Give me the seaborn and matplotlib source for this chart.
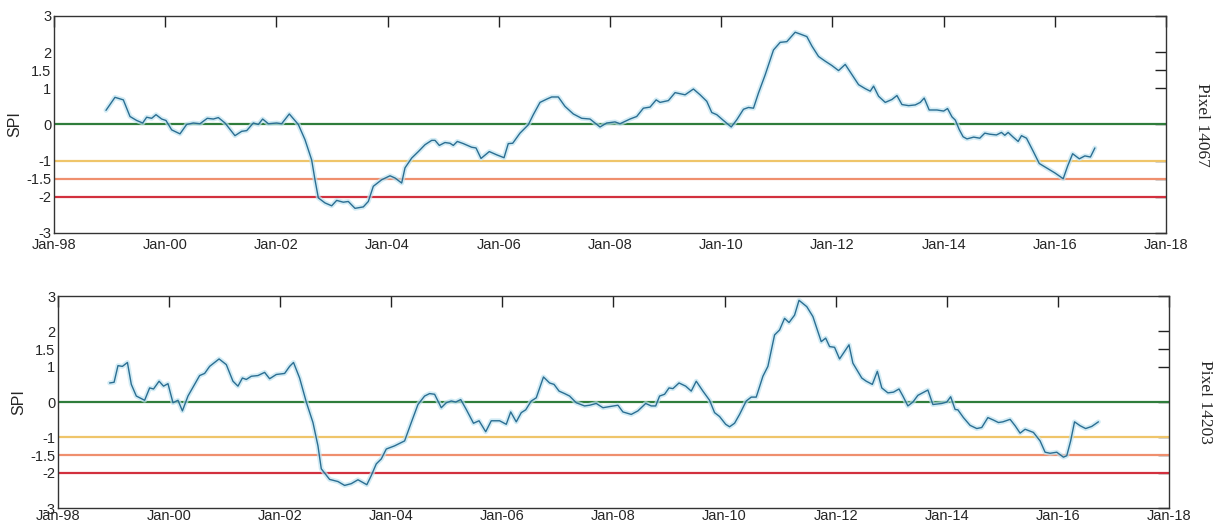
import matplotlib
matplotlib.use('Agg')
import matplotlib.pyplot as plt
import matplotlib.dates as mdates
import numpy as np
import pandas as pd
import seaborn as sns

# SPI values (time as years since Jan-1998)
yrs_top = [0.935, 1.097, 1.247, 1.367, 1.487, 1.595, 1.667, 1.757, 1.835, 1.937,
           2.014, 2.117, 2.266, 2.386, 2.506, 2.626, 2.757, 2.866, 2.956, 3.076,
           3.255, 3.376, 3.466, 3.585, 3.675, 3.753, 3.855, 4.005, 4.095, 4.232,
           4.394, 4.514, 4.634, 4.694, 4.754, 4.874, 4.994, 5.084, 5.203, 5.293,
           5.414, 5.563, 5.653, 5.743, 5.893, 6.043, 6.133, 6.253, 6.313, 6.433,
           6.553, 6.673, 6.793, 6.853, 6.930, 7.032, 7.122, 7.182, 7.254, 7.362,
           7.512, 7.59, 7.68, 7.829, 7.962, 8.094, 8.17, 8.25, 8.381, 8.53,
           8.62, 8.741, 8.861, 8.951, 9.07, 9.19, 9.34, 9.49, 9.64, 9.82,
           9.94, 10.09, 10.18, 10.36, 10.48, 10.60, 10.72, 10.83, 10.90, 11.05,
           11.17, 11.35, 11.50, 11.62, 11.74, 11.83, 11.92, 12.04, 12.18, 12.28,
           12.40, 12.49, 12.58, 12.67, 12.79, 12.94, 13.06, 13.18, 13.33, 13.42,
           13.54, 13.63, 13.75, 13.87, 13.99, 14.11, 14.23, 14.35, 14.47, 14.59,
           14.68, 14.74, 14.83, 14.95, 15.07, 15.16, 15.25, 15.37, 15.49, 15.58,
           15.65, 15.74, 15.88, 16.00, 16.07, 16.15, 16.21, 16.28, 16.35, 16.42,
           16.54, 16.65, 16.74, 16.83, 16.95, 17.04, 17.10, 17.16, 17.25, 17.34,
           17.40, 17.49, 17.61, 17.72, 17.85, 18.00, 18.15, 18.23, 18.32, 18.44,
           18.54, 18.64, 18.72]
spi_top = [0.39, 0.75, 0.68, 0.22, 0.11, 0.04, 0.20, 0.17, 0.27, 0.15,
           0.11, -0.15, -0.26, 0.00, 0.04, 0.02, 0.17, 0.15, 0.19, 0.04,
           -0.31, -0.19, -0.17, 0.04, 0.00, 0.15, 0.02, 0.04, 0.02, 0.29,
           0.00, -0.42, -0.98, -1.53, -2.03, -2.17, -2.25, -2.10, -2.15, -2.13,
           -2.32, -2.28, -2.13, -1.71, -1.53, -1.42, -1.48, -1.62, -1.20, -0.93,
           -0.75, -0.56, -0.44, -0.44, -0.58, -0.50, -0.52, -0.58, -0.47, -0.53,
           -0.63, -0.65, -0.94, -0.75, -0.84, -0.92, -0.53, -0.52, -0.24, -0.01,
           0.27, 0.61, 0.70, 0.76, 0.76, 0.50, 0.29, 0.17, 0.15, -0.07,
           0.04, 0.07, 0.02, 0.15, 0.22, 0.45, 0.48, 0.68, 0.61, 0.66,
           0.88, 0.82, 0.98, 0.82, 0.64, 0.33, 0.27, 0.11, -0.07, 0.13,
           0.42, 0.47, 0.45, 0.87, 1.37, 2.06, 2.27, 2.29, 2.55, 2.50,
           2.43, 2.17, 1.88, 1.75, 1.63, 1.49, 1.66, 1.38, 1.10, 0.99,
           0.92, 1.06, 0.78, 0.61, 0.69, 0.80, 0.55, 0.52, 0.54, 0.61,
           0.73, 0.40, 0.40, 0.37, 0.44, 0.21, 0.12, -0.14, -0.34, -0.40,
           -0.35, -0.38, -0.24, -0.27, -0.29, -0.22, -0.30, -0.22, -0.35, -0.47,
           -0.31, -0.38, -0.74, -1.08, -1.20, -1.34, -1.50, -1.15, -0.81, -0.95,
           -0.87, -0.90, -0.65]

yrs_bottom = [0.93, 1.01, 1.08, 1.16, 1.25, 1.32, 1.41, 1.56, 1.65, 1.72,
              1.82, 1.90, 1.98, 2.07, 2.16, 2.24, 2.34, 2.46, 2.55, 2.64,
              2.73, 2.90, 3.03, 3.15, 3.24, 3.32, 3.39, 3.48, 3.60, 3.72,
              3.81, 3.93, 4.08, 4.17, 4.24, 4.35, 4.47, 4.59, 4.68, 4.74,
              4.89, 5.04, 5.16, 5.28, 5.40, 5.56, 5.64, 5.73, 5.82, 5.91,
              6.06, 6.24, 6.36, 6.48, 6.60, 6.69, 6.78, 6.90, 6.99, 7.08,
              7.16, 7.25, 7.35, 7.48, 7.58, 7.70, 7.80, 7.95, 8.07, 8.15,
              8.25, 8.34, 8.42, 8.52, 8.61, 8.74, 8.85, 8.93, 9.02, 9.12,
              9.21, 9.33, 9.48, 9.57, 9.69, 9.81, 9.93, 10.08, 10.17, 10.32,
              10.44, 10.58, 10.68, 10.76, 10.83, 10.92, 11.00, 11.07, 11.18, 11.30,
              11.40, 11.49, 11.61, 11.73, 11.82, 11.91, 12.02, 12.09, 12.18, 12.27,
              12.39, 12.48, 12.57, 12.69, 12.78, 12.90, 12.99, 13.08, 13.16, 13.26,
              13.34, 13.48, 13.59, 13.68, 13.74, 13.82, 13.89, 13.98, 14.07, 14.24,
              14.31, 14.47, 14.55, 14.66, 14.75, 14.83, 14.94, 15.04, 15.14, 15.21,
              15.30, 15.39, 15.48, 15.66, 15.75, 15.91, 16.00, 16.07, 16.15, 16.20,
              16.30, 16.42, 16.54, 16.63, 16.74, 16.84, 16.93, 17.01, 17.14, 17.23,
              17.32, 17.41, 17.56, 17.68, 17.77, 17.86, 17.98, 18.10, 18.16, 18.23,
              18.30, 18.40, 18.50, 18.61, 18.73]
spi_bottom = [0.54, 0.56, 1.03, 1.01, 1.12, 0.50, 0.17, 0.05, 0.40, 0.37,
              0.59, 0.45, 0.52, -0.02, 0.05, -0.25, 0.17, 0.50, 0.75, 0.81,
              1.01, 1.22, 1.06, 0.59, 0.45, 0.68, 0.64, 0.73, 0.75, 0.84,
              0.66, 0.78, 0.81, 1.01, 1.12, 0.68, 0.00, -0.58, -1.24, -1.89,
              -2.19, -2.25, -2.36, -2.31, -2.20, -2.34, -2.08, -1.75, -1.61, -1.33,
              -1.24, -1.10, -0.58, -0.07, 0.17, 0.24, 0.22, -0.16, -0.02, 0.03,
              0.00, 0.07, -0.21, -0.60, -0.53, -0.84, -0.53, -0.53, -0.63, -0.28,
              -0.56, -0.30, -0.22, 0.03, 0.12, 0.71, 0.54, 0.50, 0.31, 0.24,
              0.17, -0.02, -0.11, -0.09, -0.04, -0.16, -0.13, -0.09, -0.28, -0.35,
              -0.25, -0.04, -0.11, -0.11, 0.17, 0.22, 0.40, 0.38, 0.54, 0.45,
              0.31, 0.59, 0.31, 0.05, -0.30, -0.41, -0.63, -0.70, -0.60, -0.35,
              0.03, 0.14, 0.14, 0.73, 1.01, 1.90, 2.04, 2.37, 2.25, 2.46,
              2.88, 2.70, 2.42, 1.99, 1.71, 1.81, 1.57, 1.55, 1.22, 1.62,
              1.10, 0.68, 0.59, 0.50, 0.87, 0.40, 0.26, 0.28, 0.37, 0.17,
              -0.11, 0.00, 0.19, 0.34, -0.07, -0.04, 0.00, 0.15, -0.21, -0.22,
              -0.44, -0.66, -0.75, -0.72, -0.44, -0.51, -0.58, -0.56, -0.49, -0.67,
              -0.88, -0.77, -0.86, -1.10, -1.42, -1.45, -1.42, -1.56, -1.52, -1.10,
              -0.56, -0.67, -0.75, -0.69, -0.56]

pixels = ['Pixel 14067', 'Pixel 14203']
thresholds = [0, -1, -1.5, -2]
threshold_colors = ['#2f7d3b', '#efc56a', '#ef8f6e', '#d2303e']
y_ticks = [-3, -2, -1.5, -1, 0, 1, 1.5, 2, 3]
y_ticklabels = ['-3', '-2', '-1.5', '-1', '0', '1', '1.5', '2', '3']


def to_dates(yrs):
    return pd.Timestamp('1998-01-01') + pd.to_timedelta(np.array(yrs) * 365.25, unit='D')


sns.set_style('white')
plt.rcParams['font.family'] = ['Liberation Sans', 'DejaVu Sans']

fig = plt.figure(figsize=(12.13, 5.27), dpi=100)
ax_top = fig.add_axes([0.0445, 0.558, 0.9168, 0.4117])
ax_bot = fig.add_axes([0.0478, 0.036, 0.9159, 0.4022])

series = [(yrs_top, spi_top), (yrs_bottom, spi_bottom)]
for ax, (yrs, vals), name, xpad in zip([ax_top, ax_bot], series, pixels, [4, 0.5]):
    df = pd.DataFrame({'date': to_dates(yrs), 'SPI': vals})

    for lvl, col in zip(thresholds, threshold_colors):
        ax.axhline(lvl, color=col, lw=1.6, zorder=1)

    # soft halo under the line, like the scanned original
    sns.lineplot(data=df, x='date', y='SPI', ax=ax, color='#bfe3f0', lw=3.5, alpha=0.7, zorder=2)
    sns.lineplot(data=df, x='date', y='SPI', ax=ax, color='#2b6e92', lw=1.0, zorder=3)

    ax.set_xlim(pd.Timestamp('1998-01-01'), pd.Timestamp('2018-01-01'))
    ax.set_ylim(-3, 3)
    ax.xaxis.set_major_locator(mdates.YearLocator(2))
    ax.xaxis.set_major_formatter(mdates.DateFormatter('%b-%y'))
    ax.set_yticks(y_ticks)
    ax.set_yticklabels(y_ticklabels)
    ax.tick_params(direction='in', length=8, width=1, color='#222222',
                   top=True, right=True, labelsize=10.5, pad=2)
    ax.tick_params(axis='x', pad=xpad)
    ax.set_xlabel('')
    ax.set_ylabel('SPI', fontsize=11.5, labelpad=3)
    for sp in ax.spines.values():
        sp.set_color('#333333')
        sp.set_linewidth(1.0)
    ax.text(1.032, 0.5, name, transform=ax.transAxes, rotation=270,
            ha='center', va='center', fontsize=12.5, family='Liberation Serif')

fig.savefig('out.png', dpi=100)
